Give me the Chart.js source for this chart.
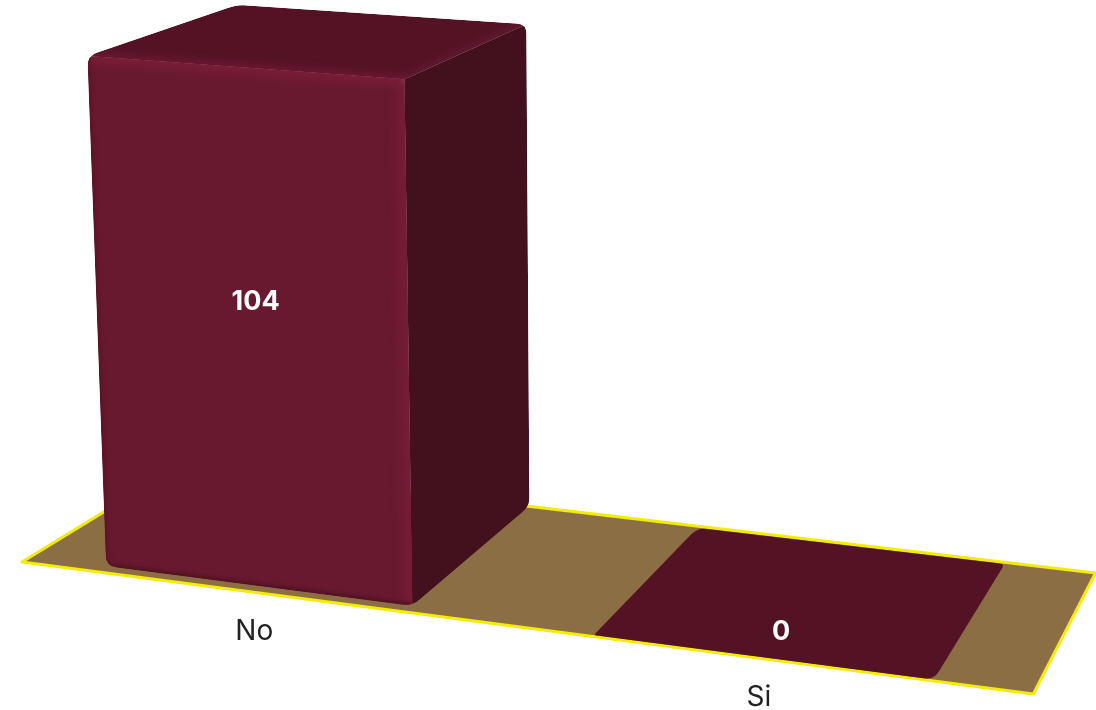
<!DOCTYPE html>
<html>
<head>
<meta charset="utf-8">
<title>Grafico</title>
<style>
    html, body { margin: 0; background: #fff; }
</style>
<script src="https://cdn.jsdelivr.net/npm/chart.js@4"></script>
</head>
<body>
<canvas id="grafico" width="1096" height="710"></canvas>
<script>
const categorias = ['No', 'Si'];
const valores = [104, 0];
const ejeMax = 104;

// Colores de las caras y del piso
const colorFrente = '#68192f';
const colorTapa = '#541225';
const colorLado = '#43101e';
const colorPiso = '#8c6e44';
const colorBorde = '#f4ec08';

// Camara: origen del piso y puntos de fuga de cada eje (u, alto, fondo)
const origen = [22, 562];
const fugaU = [-9000, -615];
const fugaV = [620, 14600];
const fugaW = [1596, -401];
const pesoU = -0.1008;
const pesoV = -0.03518;
const pesoW = 0.1116;

const fondoIni = 0.01;
const fondoFin = 0.985;

// Pasa (u, v, w) normalizados a pixeles de la pantalla
function proyectar(u, v, w) {
    const d = 1 + u * pesoU + v * pesoV + w * pesoW;
    const px = origen[0] + u * pesoU * fugaU[0] + v * pesoV * fugaV[0] + w * pesoW * fugaW[0];
    const py = origen[1] + u * pesoU * fugaU[1] + v * pesoV * fugaV[1] + w * pesoW * fugaW[1];
    return [px / d, py / d];
}

// Punto a cierta distancia de p en direccion a q
function hacia(p, q, dist) {
    const largo = Math.hypot(q[0] - p[0], q[1] - p[1]);
    return [p[0] + (q[0] - p[0]) * dist / largo, p[1] + (q[1] - p[1]) * dist / largo];
}

// Poligono con esquinas suavizadas; corte = distancia recortada en cada vertice
function trazar(ctx, puntos, corte) {
    const n = puntos.length;
    ctx.beginPath();
    for (let i = 0; i < n; i++) {
        const p = puntos[i];
        const a = hacia(p, puntos[(i + n - 1) % n], corte[i]);
        const b = hacia(p, puntos[(i + 1) % n], corte[i]);
        if (i === 0) ctx.moveTo(a[0], a[1]); else ctx.lineTo(a[0], a[1]);
        ctx.quadraticCurveTo(p[0], p[1], b[0], b[1]);
    }
    ctx.closePath();
}

// Banda difusa sobre un borde, recortada a la cara
function brillo(ctx, cara, desde, hasta, color, ancho, difuso) {
    ctx.save();
    trazar(ctx, cara, [0, 0, 0, 0]);
    ctx.clip();
    ctx.filter = 'blur(' + difuso + 'px)';
    ctx.strokeStyle = color;
    ctx.lineWidth = ancho;
    ctx.lineCap = 'round';
    ctx.beginPath();
    ctx.moveTo(desde[0], desde[1]);
    ctx.lineTo(hasta[0], hasta[1]);
    ctx.stroke();
    ctx.restore();
}

function dibujarPiso(ctx) {
    ctx.beginPath();
    [[0, 0], [1, 0], [1, 1], [0, 1]].forEach(function (c) {
        const p = proyectar(c[0], 0, c[1]);
        ctx.lineTo(p[0], p[1]);
    });
    ctx.closePath();
    ctx.fillStyle = colorPiso;
    ctx.fill();
    ctx.strokeStyle = colorBorde;
    ctx.lineWidth = 3;
    ctx.lineJoin = 'round';
    ctx.stroke();
}

function dibujarBarra(ctx, u0, u1, alto) {
    if (alto <= 0) {
        const plana = [
            proyectar(u0, 0, fondoIni), proyectar(u0, 0, fondoFin),
            proyectar(u1, 0, fondoFin), proyectar(u1, 0, fondoIni)
        ];
        trazar(ctx, plana, [3, 9, 5, 9]);
        ctx.fillStyle = colorTapa;
        ctx.fill();
        return;
    }

    const v0 = 0.011;
    const fin = 0.955;
    const altoFondo = alto * 1.012;
    const tapa = [
        proyectar(u0, alto, fondoIni), proyectar(u0, altoFondo, fin),
        proyectar(u1, altoFondo, fin), proyectar(u1, alto, fondoIni)
    ];
    const frente = [
        tapa[0], tapa[3],
        proyectar(u1, v0, fondoIni), proyectar(u0, v0, fondoIni)
    ];
    const lado = [
        tapa[3], tapa[2],
        proyectar(u1, v0, fin), proyectar(u1, v0, fondoIni)
    ];

    // el contorno completo de la caja recorta las tres caras
    const contorno = [tapa[0], tapa[1], tapa[2], lado[2], frente[2], frente[3]];
    ctx.save();
    trazar(ctx, contorno, [11, 10, 10, 9, 10, 11]);
    ctx.clip();

    trazar(ctx, tapa, [0, 0, 0, 0]);
    ctx.fillStyle = colorTapa;
    ctx.fill();
    trazar(ctx, lado, [0, 0, 0, 0]);
    ctx.fillStyle = colorLado;
    ctx.fill();

    // aristas de la tapa
    brillo(ctx, tapa, tapa[3], tapa[2], 'rgba(104,32,56,0.7)', 8, 4);
    brillo(ctx, tapa, tapa[0], tapa[3], 'rgba(112,26,52,0.9)', 8, 4);

    trazar(ctx, frente, [0, 0, 0, 0]);
    ctx.fillStyle = colorFrente;
    ctx.fill();
    brillo(ctx, frente, frente[0], frente[1], '#7a1d38', 14, 5);
    brillo(ctx, frente, frente[1], frente[2], '#751c37', 18, 5);
    brillo(ctx, frente, frente[0], frente[3], '#5a1226', 5, 2);
    brillo(ctx, frente, frente[3], frente[2], '#4e0f20', 5, 2);
    brillo(ctx, frente, frente[1], frente[1], 'rgba(170,70,100,0.55)', 7, 2);
    ctx.restore();
}

const barras3d = {
    id: 'barras3d',
    beforeDatasetsDraw(chart) {
        const ctx = chart.ctx;
        const area = chart.chartArea;
        const meta = chart.getDatasetMeta(0);
        const escalaX = chart.scales.x;

        ctx.save();
        dibujarPiso(ctx);

        meta.data.forEach(function (barra, i) {
            const p = barra.getProps(['x', 'y', 'base', 'width'], true);
            const u0 = (p.x - p.width / 2 - area.left) / area.width;
            const u1 = (p.x + p.width / 2 - area.left) / area.width;
            const alto = (p.base - p.y) / area.height;
            const uc = (u0 + u1) / 2;

            dibujarBarra(ctx, u0, u1, alto);

            // valor sobre la cara frontal, o sobre el piso si no tiene altura
            const pv = alto > 0 ? proyectar(uc, alto * 0.555, 0.05) : proyectar(uc, 0, 0.215);
            ctx.textAlign = 'center';
            ctx.textBaseline = 'middle';
            ctx.fillStyle = '#ffffff';
            ctx.font = 'bold 27px Inter';
            ctx.fillText(String(valores[i]), pv[0], pv[1]);

            // etiqueta de la categoria delante del piso
            const pe = proyectar(uc, 0, 0);
            ctx.fillStyle = '#222222';
            ctx.font = '28px Inter';
            ctx.fillText(escalaX.getLabelForValue(i), pe[0] - 1, pe[1] + 39);
        });
        ctx.restore();
        return false;
    }
};

const ctx = document.getElementById('grafico').getContext('2d');
new Chart(ctx, {
    type: 'bar',
    data: {
        labels: categorias,
        datasets: [{
            data: valores,
            backgroundColor: colorFrente,
            barPercentage: 0.8,
            categoryPercentage: 0.8
        }]
    },
    options: {
        responsive: false,
        animation: false,
        layout: { padding: 0 },
        plugins: {
            legend: { display: false },
            tooltip: { enabled: false }
        },
        scales: {
            x: { display: false },
            y: { display: false, min: 0, max: ejeMax }
        }
    },
    plugins: [barras3d]
});
</script>
</body>
</html>
